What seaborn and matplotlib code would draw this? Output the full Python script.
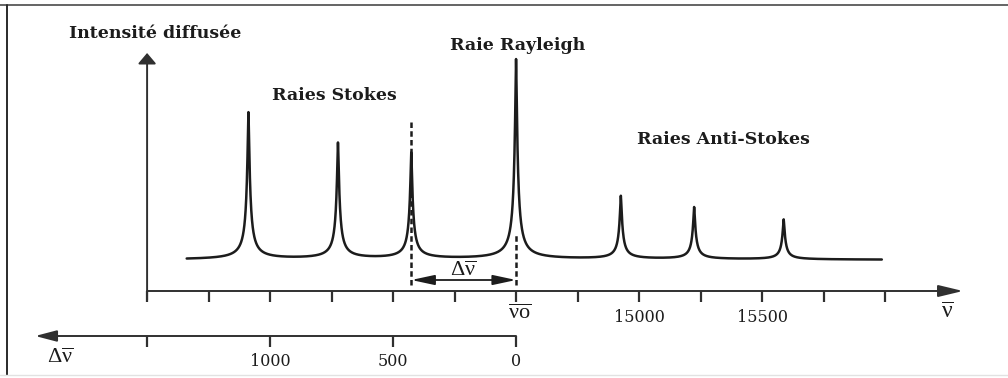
import numpy as np
import pandas as pd
import matplotlib
matplotlib.use("Agg")
import matplotlib.pyplot as plt
from matplotlib.lines import Line2D
import seaborn as sns

# ---- spectrum parameters (wavenumbers in cm^-1, intensities in arbitrary units)
nu0 = 14500                          # exciting (Rayleigh) line
raman_shifts = [426, 724, 1088]      # vibrational shifts
stokes_heights = [106, 116, 147]     # lines at nu0 - shift
anti_stokes_heights = [63, 52, 40]   # lines at nu0 + shift
rayleigh_height = 200
background = 31
line_halfwidth = 7.0
spectrum_start, spectrum_end = 13161, 15987

# ---- graduations
nu_ticks = [13000, 13250, 13500, 13750, 14000, 14250, 14500,
            14750, 15000, 15250, 15500, 15750, 16000]
nu_tick_labels = {15000: "15000", 15500: "15500"}
shift_ticks = [0, 500, 1000, 1500]
shift_tick_labels = {0: "0", 500: "500", 1000: "1000"}

# ---- annotations
y_title = "Intensité diffusée"
stokes_title = "Raies Stokes"
rayleigh_title = "Raie Rayleigh"
anti_stokes_title = "Raies Anti-Stokes"
nu_symbol = r"$\overline{\nu}$"
nu0_symbol = r"$\overline{\nu\mathrm{o}}$"
shift_symbol = r"$\Delta\overline{\nu}$"

sns.set_theme(style="white")
plt.rcParams["font.family"] = ["DejaVu Serif"]
# upright serif symbols for the wavenumber labels
plt.rcParams["mathtext.fontset"] = "custom"
plt.rcParams["mathtext.rm"] = "Liberation Serif"
plt.rcParams["mathtext.it"] = "Liberation Serif"
plt.rcParams["mathtext.bf"] = "Liberation Serif:bold"
plt.rcParams["mathtext.fallback"] = "stix"

ink = "#1c1c1c"
axis_ink = "#303030"

# build the spectrum as a sum of sharp line profiles on a background
centers = [nu0] + [nu0 - s for s in raman_shifts] + [nu0 + s for s in raman_shifts]
heights = [rayleigh_height] + stokes_heights + anti_stokes_heights
nu = np.arange(spectrum_start, spectrum_end + 0.25, 0.5)
intensity = np.full_like(nu, float(background))
for c, h in zip(centers, heights):
    intensity += h / (1.0 + np.abs((nu - c) / line_halfwidth) ** 1.4)
spectrum = pd.DataFrame({"nu": nu, "I": intensity})

fig = plt.figure(figsize=(10.08, 3.78), dpi=100)
ax = fig.add_axes([0, 0, 1, 1])
ax.set_xlim(12402, 16500)
ax.set_ylim(-87, 291)
ax.axis("off")

sns.lineplot(data=spectrum, x="nu", y="I", ax=ax, color=ink, linewidth=1.8,
             sort=False, estimator=None)

# intensity axis
ax.annotate("", xy=(nu_ticks[0], 238), xytext=(nu_ticks[0], -9),
            arrowprops=dict(arrowstyle="-|>,head_length=6.5,head_width=5.5",
                            color=axis_ink, lw=1.4, shrinkA=0, shrinkB=0,
                            mutation_scale=1))
# wavenumber axis
ax.annotate("", xy=(16317, 0), xytext=(nu_ticks[0], 0),
            arrowprops=dict(arrowstyle="-|>,head_length=15,head_width=3.6",
                            color=axis_ink, lw=1.4, shrinkA=0, shrinkB=0,
                            mutation_scale=1))
ax.vlines(nu_ticks, -10.5, 0, color=axis_ink, lw=1.6)
for t, lab in nu_tick_labels.items():
    ax.text(t, -27, lab, ha="center", va="center", fontsize=11.5, color=ink)
ax.text(16252, -21, nu_symbol, ha="center", va="center",
        fontsize=17, color=ink)
ax.text(nu0 + 16, -22, nu0_symbol, ha="center",
        va="center", fontsize=16, color=ink)

# Raman shift axis (points to the left)
shift_y = -45
ax.annotate("", xy=(12545, shift_y), xytext=(nu0, shift_y),
            arrowprops=dict(arrowstyle="-|>,head_length=13,head_width=3.4",
                            color=axis_ink, lw=1.4, shrinkA=0, shrinkB=0,
                            mutation_scale=1))
ax.vlines([nu0 - s for s in shift_ticks], shift_y - 10.5, shift_y,
          color=axis_ink, lw=1.6)
for s, lab in shift_tick_labels.items():
    ax.text(nu0 - s, -70, lab, ha="center", va="center", fontsize=11.5, color=ink)
ax.text(12646, -66, shift_symbol, ha="center",
        va="center", fontsize=16, color=ink)

# shift marker between the first Stokes line and the Rayleigh line
first_stokes = nu0 - raman_shifts[0]
ax.plot([first_stokes, first_stokes], [6, 169], color=ink, lw=1.8,
        dashes=(2.2, 1.3))
ax.plot([nu0, nu0], [6, 58], color=ink, lw=1.8, dashes=(2.2, 1.3))
ax.annotate("", xy=(nu0, 11), xytext=(first_stokes, 11),
            arrowprops=dict(arrowstyle="<|-|>,head_length=14,head_width=3.0",
                            color=ink, lw=1.3, shrinkA=0, shrinkB=0,
                            mutation_scale=1))
ax.text(14284, 21.5, shift_symbol, ha="center",
        va="center", fontsize=16, color=ink)

# titles
title_kw = dict(ha="center", va="center", fontsize=12.5, fontweight="bold",
                color=ink)
ax.text(13032, 257, y_title, **title_kw)
ax.text(13760, 196, stokes_title, **title_kw)
ax.text(nu0 + 8, 246, rayleigh_title, **title_kw)
ax.text(15345, 151, anti_stokes_title, **title_kw)

# frame lines
fig.add_artist(Line2D([0, 1], [1 - 5 / 378, 1 - 5 / 378],
                      transform=fig.transFigure, color="#4a4a4a", lw=1.2))
fig.add_artist(Line2D([6.7 / 1008, 6.7 / 1008], [3 / 378, 1 - 5 / 378],
                      transform=fig.transFigure, color="#2a2a2a", lw=1.4))
fig.add_artist(Line2D([0, 1], [3 / 378, 3 / 378],
                      transform=fig.transFigure, color="#e2e2e2", lw=1.0))

fig.savefig("out.png", dpi=100)
